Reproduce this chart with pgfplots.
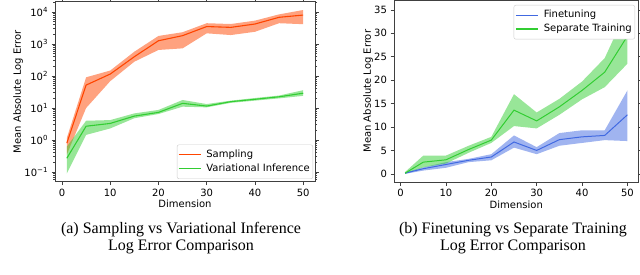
\documentclass[border=0pt]{standalone}
\usepackage{fontspec}
\usepackage{pgfplots}
\pgfplotsset{compat=1.18}
\newfontfamily\dejavu{DejaVu Sans}
\newfontfamily\capfont{Liberation Serif}
\definecolor{sampc}{HTML}{FF4500}
\definecolor{vic}{HTML}{32CD32}
\definecolor{ftc}{HTML}{4169E1}

\pgfplotsset{
  mystyle/.style={
    scale only axis,
    tick align=outside,
    major tick length=3.5pt,
    minor tick length=2pt,
    axis line style={black!75, line width=0.8pt},
    every tick/.style={black!75, line width=0.6pt},
    tick label style={font=\dejavu\fontsize{10}{12}\selectfont},
    label style={font=\dejavu\fontsize{10}{12}\selectfont},
    /pgf/number format/assume math mode=true,
    xmin=-1.45, xmax=52.45,
    xtick={0,10,20,30,40,50},
    xlabel={Dimension},
    ylabel={Mean Absolute Log Error},
    legend cell align=left,
    legend image code/.code={\draw[##1] (0pt,0pt) -- (22pt,0pt); \path (25pt,0pt);},
    legend style={font=\dejavu\fontsize{10}{12}\selectfont, draw=black!20, rounded corners=2pt,
      inner xsep=1pt, inner ysep=3pt, row sep=0pt,
      nodes={inner sep=2pt, text height=7.5pt, text depth=2.5pt}},
  }
}

\begin{document}
\begin{tikzpicture}
\useasboundingbox (0,0) rectangle (640pt,-275pt);

\begin{axis}[mystyle,
  at={(55pt,-1.7pt)}, anchor=north west,
  width=260pt, height=180pt,
  ymode=log, ymin=0.05, ymax=20900,
  ytick={0.1,1,10,100,1000,10000},
  minor ytick={0.06,0.07,0.08,0.09,0.2,0.3,0.4,0.5,0.6,0.7,0.8,0.9,2,3,4,5,6,7,8,9,20,30,40,50,60,70,80,90,200,300,400,500,600,700,800,900,2000,3000,4000,5000,6000,7000,8000,9000,20000},
  yticklabels={10\textsuperscript{−1},10\textsuperscript{0},10\textsuperscript{1},10\textsuperscript{2},10\textsuperscript{3},10\textsuperscript{4}},
  xlabel style={at={(axis description cs:0.5,-0.124)}, anchor=center},
  ylabel style={at={(axis description cs:-0.142,0.5)}, anchor=center},
  legend style={at={(axis description cs:1,0)}, anchor=south east, xshift=-2pt, yshift=2.7pt},
]
% Sampling band (lower bound forward, upper bound backward)
\addplot[fill=sampc, fill opacity=0.5, draw=none, forget plot] coordinates {
 (1,0.35) (5,10) (10,69) (15,280) (20,650) (25,730) (30,2150) (35,1900) (40,2400) (45,4450) (50,4150)
 (50,11500) (45,8400) (40,5350) (35,4200) (30,4450) (25,2330) (20,1780) (15,575) (10,148) (5,91) (1,1.15)};
% Variational inference band
\addplot[fill=vic, fill opacity=0.5, draw=none, forget plot] coordinates {
 (1,0.09) (5,1.45) (10,2.3) (15,4.8) (20,6.5) (25,11) (30,10.5) (35,14.5) (40,17) (45,20) (50,24)
 (50,36) (45,24.5) (40,20.5) (35,17) (30,13.3) (25,17.8) (20,8.7) (15,6.8) (10,4.2) (5,4.0) (1,0.62)};
\addplot[sampc, line width=1.1pt, mark=none, legend image post style={line width=1.3pt}] coordinates {
 (1,0.8) (5,52) (10,115) (15,400) (20,1260) (25,1820) (30,3500) (35,3300) (40,4200) (45,6800) (50,8000)};
\addplot[vic, line width=1.1pt, mark=none, legend image post style={line width=1.3pt}] coordinates {
 (1,0.27) (5,2.7) (10,3.3) (15,5.6) (20,7.3) (25,14) (30,11.5) (35,15.8) (40,18.7) (45,22.4) (50,29)};
\legend{Sampling, Variational Inference}
\end{axis}

\begin{axis}[mystyle,
  at={(394pt,0pt)}, anchor=north west,
  width=244.5pt, height=182.3pt,
  ymin=-1.8, ymax=37.1,
  ytick={0,5,10,15,20,25,30,35},
  xlabel style={at={(axis description cs:0.5,-0.1225)}, anchor=center},
  ylabel style={at={(axis description cs:-0.106,0.5)}, anchor=center},
  legend style={at={(axis description cs:1,1)}, anchor=north east, xshift=-3.5pt, yshift=-5pt},
]
% Finetuning band
\addplot[fill=ftc, fill opacity=0.5, draw=none, forget plot] coordinates {
 (1,0.0) (5,0.7) (10,1.3) (15,2.5) (20,2.9) (25,5.6) (30,4.2) (35,6.0) (40,6.6) (45,7.2) (50,7.0)
 (50,17.8) (45,9.3) (40,9.3) (35,8.7) (30,5.7) (25,8.2) (20,4.2) (15,3.2) (10,2.5) (5,1.4) (1,0.3)};
% Separate training band
\addplot[fill=vic, fill opacity=0.5, draw=none, forget plot] coordinates {
 (1,0.0) (5,1.4) (10,2.2) (15,4.5) (20,6.6) (25,10.2) (30,9.7) (35,12.6) (40,15.9) (45,18.5) (50,23.5)
 (50,35.2) (45,24.7) (40,19.7) (35,16.0) (30,13.1) (25,17.0) (20,7.9) (15,6.0) (10,3.9) (5,3.9) (1,0.4)};
\addplot[ftc, line width=1pt, mark=none, legend image post style={line width=1pt}] coordinates {
 (1,0.15) (5,1.1) (10,2.0) (15,2.9) (20,3.6) (25,6.8) (30,5.0) (35,7.3) (40,7.9) (45,8.2) (50,12.6)};
\addplot[vic, line width=1pt, mark=none, legend image post style={line width=2pt}] coordinates {
 (1,0.15) (5,2.5) (10,3.0) (15,5.2) (20,7.2) (25,13.6) (30,11.3) (35,14.3) (40,17.8) (45,21.7) (50,29.4)};
\legend{Finetuning, Separate Training}
\end{axis}

\node[font=\capfont\fontsize{16}{18}\selectfont, anchor=base] at (181pt,-233.3pt) {(a) Sampling vs Variational Inference};
\node[font=\capfont\fontsize{16}{18}\selectfont, anchor=base] at (181pt,-250.7pt) {Log Error Comparison};
\node[font=\capfont\fontsize{16}{18}\selectfont, anchor=base] at (513pt,-233.3pt) {(b) Finetuning vs Separate Training};
\node[font=\capfont\fontsize{16}{18}\selectfont, anchor=base] at (513pt,-250.7pt) {Log Error Comparison};
\end{tikzpicture}
\end{document}
